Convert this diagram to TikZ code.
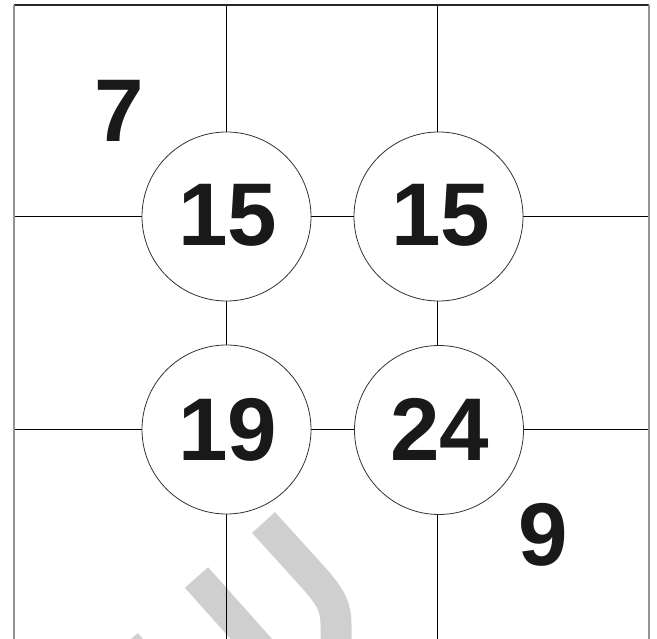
\documentclass[tikz,border=0pt]{standalone}
\usepackage{fontspec}
\setmainfont{Liberation Sans}
\begin{document}
\begin{tikzpicture}[x=1pt,y=-1pt,
  gridline/.style={black,line width=0.9pt},
  border/.style={gray!85,line width=2pt},
  topline/.style={black!85,line width=1.2pt},
  bubble/.style={circle,draw=black!80,line width=0.8pt,fill=white,minimum size=169pt,inner sep=0pt,
    font=\fontsize{89}{89}\selectfont\bfseries,text=black!90},
  digit/.style={inner sep=0pt,font=\fontsize{89}{89}\selectfont\bfseries,text=black!90},
  wm/.style={black!19,line width=31pt}]
\useasboundingbox (0,0) rectangle (657,639);
\begin{scope}
\clip (0,0) rectangle (657,639);
% watermark
\draw[wm] (196.5,577.5) -- (270,660);
\draw[wm] (263.5,522.5) -- (312,576) .. controls (330,596) and (336,606) .. (336,625) -- (336,660);
\draw[wm] (126,643) -- (140,660);
% grid
\coordinate (tl) at (13.5,5);
\coordinate (tr) at (648.7,5);
\draw[gridline] (226,5) -- (226,660);
\draw[gridline] (437.5,5) -- (437.5,660);
\draw[gridline] (13.5,216.5) -- (648.7,216.5);
\draw[gridline] (13.5,429) -- (648.7,429);
\draw[topline] (tl) -- (tr);
\draw[border] (tl) -- (13.5,660);
\draw[border] (tr) -- (648.7,660);
\end{scope}
% circles
\node[bubble] (c1) at (226.5,216.5) {};
\node[bubble] (c2) at (438.5,216.5) {};
\node[bubble] (c3) at (226.5,429.5) {};
\node[bubble] (c4) at (439,430) {};
\node[digit] (n1) at (228,215.5) {15};
\node[digit] (n2) at (441,215.5) {15};
\node[digit] (n3) at (227.5,430) {19};
\node[digit] (n4) at (439.7,429.7) {24};
\node[digit] (n7) at (119.7,110.5) {7};
\node[digit] (n9) at (543,534.5) {9};
\end{tikzpicture}
\end{document}
